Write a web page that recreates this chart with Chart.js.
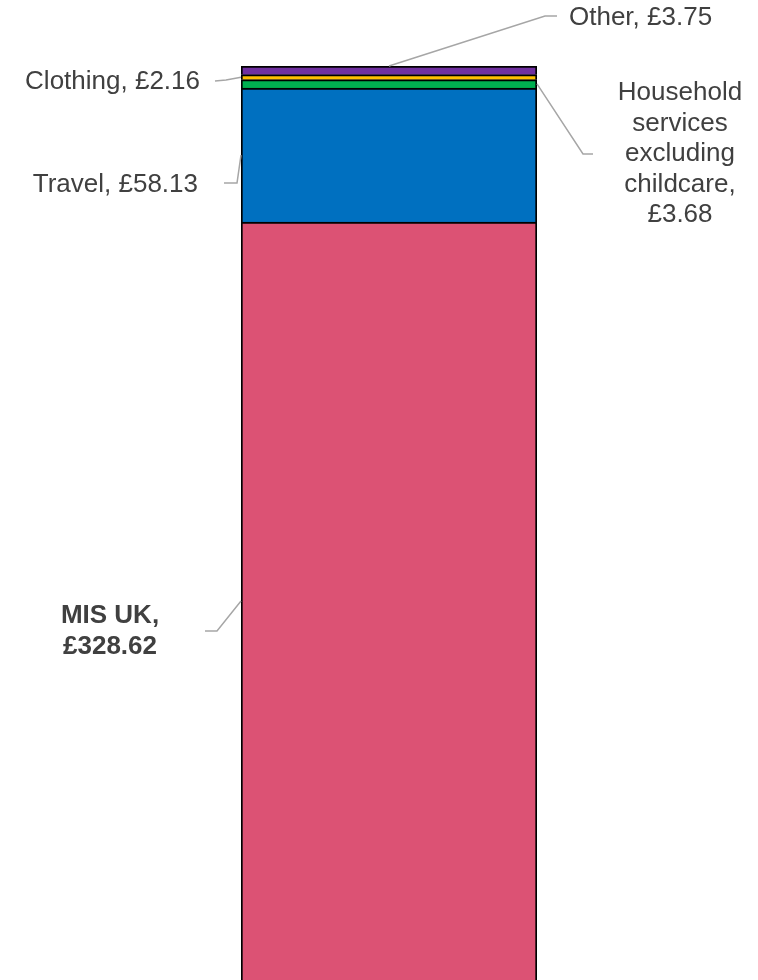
<!DOCTYPE html>
<html>
<head>
<meta charset="utf-8">
<title>MIS UK weekly budget</title>
<script src="https://cdn.jsdelivr.net/npm/chart.js@4/dist/chart.umd.min.js"></script>
<style>
  html, body { margin: 0; padding: 0; background: #fff; }
  #budgetChart { display: block; }
</style>
</head>
<body>
<canvas id="budgetChart" width="758" height="980"></canvas>
<script>
// Stack order: bottom to top
const categories = ['MIS UK', 'Travel', 'Household services excluding childcare', 'Clothing', 'Other'];
const amounts = [328.62, 58.13, 3.68, 2.16, 3.75];
const colours = ['#DC5274', '#0070C0', '#00B050', '#FFC000', '#7030A0'];
const labelLines = [
  ['MIS UK,', '£328.62'],
  ['Travel, £58.13'],
  ['Household', 'services', 'excluding', 'childcare,', '£3.68'],
  ['Clothing, £2.16'],
  ['Other, £3.75']
];

// Where each label sits and how its leader line bends
const labelStyle = [
  { side: 'left', anchorY: 0.5, elbow: [217, 631], end: [205, 631], textX: 110, textY: 616, align: 'center', bold: true },
  { side: 'left', anchorY: 0.5, elbow: [237, 183], end: [224, 183], textX: 198, textY: 185, align: 'right' },
  { side: 'right', anchorY: 0.5, elbow: [583, 154], end: [593, 154], textX: 680, textY: 93, align: 'center' },
  { side: 'left', anchorY: 0.5, elbow: [226, 80], end: [215, 81], textX: 200, textY: 82, align: 'right' },
  { side: 'top', anchorX: 0.5, elbow: [545, 16], end: [557, 16], textX: 569, textY: 18, align: 'left' }
];

const total = amounts.reduce((a, b) => a + b, 0);

// Leader lines and labels drawn after the bars
const calloutPlugin = {
  id: 'callouts',
  afterDatasetsDraw(chart) {
    const ctx = chart.ctx;
    ctx.save();
    chart.data.datasets.forEach((ds, i) => {
      const el = chart.getDatasetMeta(i).data[0];
      const st = labelStyle[i];
      const left = el.x - el.width / 2;
      const right = el.x + el.width / 2;
      let ax, ay;
      if (st.side === 'top') {
        ax = left + (right - left) * st.anchorX;
        ay = el.y;
      } else {
        ax = st.side === 'left' ? left : right;
        ay = el.base + (el.y - el.base) * st.anchorY;
      }
      ctx.strokeStyle = '#A6A6A6';
      ctx.lineWidth = 1.5;
      ctx.beginPath();
      ctx.moveTo(ax, ay);
      ctx.lineTo(st.elbow[0], st.elbow[1]);
      ctx.lineTo(st.end[0], st.end[1]);
      ctx.stroke();

      ctx.fillStyle = '#404040';
      ctx.font = (st.bold ? 'bold ' : '') + '26px "Liberation Sans", Arial, sans-serif';
      ctx.textAlign = st.align;
      ctx.textBaseline = 'middle';
      labelLines[i].forEach((line, k) => {
        ctx.fillText(line, st.textX, st.textY + k * 30.5);
      });
    });
    ctx.restore();
  }
};

new Chart(document.getElementById('budgetChart'), {
  type: 'bar',
  data: {
    labels: [''],
    datasets: categories.map((name, i) => ({
      label: name,
      data: [amounts[i]],
      backgroundColor: colours[i],
      borderColor: '#000000',
      borderWidth: 2,
      barPercentage: 1,
      categoryPercentage: 1
    }))
  },
  options: {
    responsive: false,
    animation: false,
    layout: { padding: { left: 241, right: 221, top: 66, bottom: 0 } },
    plugins: {
      legend: { display: false },
      tooltip: { enabled: false }
    },
    scales: {
      x: { stacked: true, display: false },
      y: { stacked: true, display: false, min: 0, max: total }
    }
  },
  plugins: [calloutPlugin]
});
</script>
</body>
</html>
